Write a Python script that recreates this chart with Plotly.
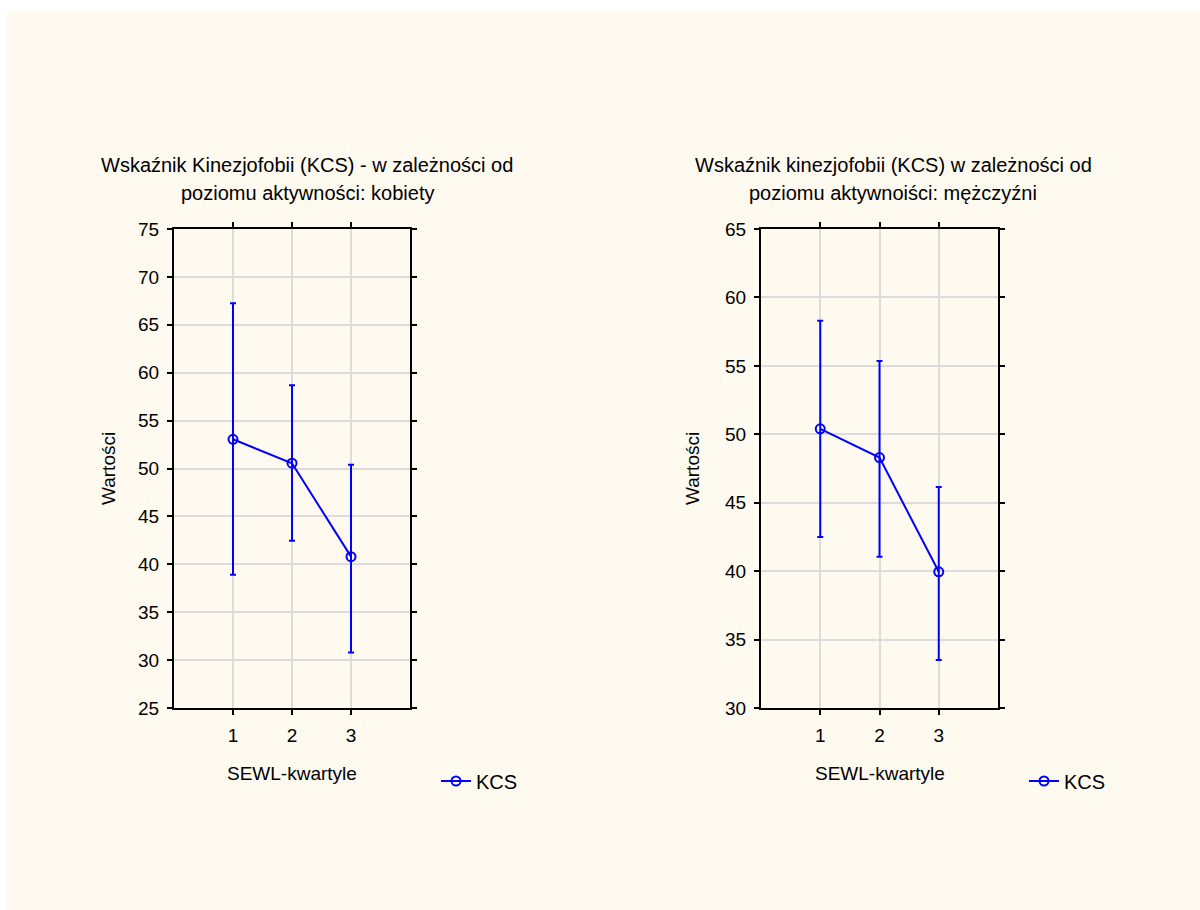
import plotly.graph_objects as go

# ---- data ----
quartiles = [1, 2, 3]
x_tick_labels = ["1", "2", "3"]

women_mean = [53.05, 50.55, 40.8]
women_upper = [67.25, 58.7, 50.4]
women_lower = [38.9, 42.45, 30.8]

men_mean = [50.4, 48.3, 39.95]
men_upper = [58.3, 55.35, 46.15]
men_lower = [42.5, 41.05, 33.5]

women_yticks = [25, 30, 35, 40, 45, 50, 55, 60, 65, 70, 75]
men_yticks = [30, 35, 40, 45, 50, 55, 60, 65]

series_name = "KCS"
title_women = ["Wskaźnik Kinezjofobii (KCS) - w zależności od", "poziomu aktywności: kobiety"]
title_men = ["Wskaźnik kinezjofobii (KCS) w zależności od", "poziomu aktywnoiści: mężczyźni"]
x_title = "SEWL-kwartyle"
y_title = "Wartości"

# ---- styling ----
W, H = 1200, 910
BLUE = "#0000FF"
FONT = "Liberation Sans, Arial, sans-serif"
CREAM = "#FFFAF0"


def px_x(p):
    return p / W


def px_y(p):
    return 1 - p / H


fig = go.Figure()


def add_series(means, up, lo, xa, ya, legend):
    plus = [u - m for u, m in zip(up, means)]
    minus = [m - l for m, l in zip(means, lo)]
    fig.add_trace(go.Scatter(
        x=quartiles, y=means, mode="lines+markers", name=series_name,
        xaxis=xa, yaxis=ya, legend=legend, showlegend=True,
        line=dict(color=BLUE, width=2),
        marker=dict(symbol="circle-open", size=9, color=BLUE, line=dict(width=2, color=BLUE)),
        error_y=dict(type="data", symmetric=False, array=plus, arrayminus=minus,
                     color=BLUE, thickness=2, width=3),
    ))


add_series(women_mean, women_upper, women_lower, "x", "y", "legend")
add_series(men_mean, men_upper, men_lower, "x2", "y2", "legend2")

axis_common = dict(
    showline=True, linecolor="black", linewidth=2, mirror="ticks",
    ticks="outside", ticklen=5, tickwidth=2, tickcolor="black",
    showgrid=True, gridcolor="#DCDCDC", gridwidth=2, zeroline=False,
    automargin=False, ticklabelstandoff=4,
    tickfont=dict(family=FONT, size=19, color="black"),
)

fig.update_layout(
    width=W, height=H,
    margin=dict(l=0, r=0, t=0, b=0, pad=0, autoexpand=False),
    paper_bgcolor="white",
    plot_bgcolor="white",
    showlegend=True,
    font=dict(family=FONT, size=18, color="black"),
    xaxis=dict(domain=[px_x(174), px_x(410)], range=[0, 4], tickvals=quartiles,
               ticktext=x_tick_labels, anchor="y", **axis_common),
    yaxis=dict(domain=[px_y(708), px_y(229)], range=[25, 75], tickvals=women_yticks,
               anchor="x", **axis_common),
    xaxis2=dict(domain=[px_x(761), px_x(998)], range=[0, 4], tickvals=quartiles,
                ticktext=x_tick_labels, anchor="y2", **axis_common),
    yaxis2=dict(domain=[px_y(708), px_y(229)], range=[30, 65], tickvals=men_yticks,
                anchor="x2", **axis_common),
    legend=dict(x=px_x(436), y=px_y(781), xanchor="left", yanchor="middle",
                bgcolor="rgba(0,0,0,0)", font=dict(family=FONT, size=20)),
    legend2=dict(x=px_x(1024), y=px_y(781), xanchor="left", yanchor="middle",
                 bgcolor="rgba(0,0,0,0)", font=dict(family=FONT, size=20)),
    shapes=[dict(type="rect", xref="paper", yref="paper", x0=px_x(7), x1=1,
                 y0=0, y1=px_y(11), fillcolor=CREAM, line=dict(width=0), layer="below")],
)

ann = []
for lines, cx in ((title_women, 307), (title_men, 893)):
    for i, t in enumerate(lines):
        ann.append(dict(text=t, x=px_x(cx), y=px_y(165 + 28 * i), xref="paper", yref="paper",
                        xanchor="center", yanchor="middle", showarrow=False,
                        font=dict(family=FONT, size=20, color="black")))
for cx in (292, 880):
    ann.append(dict(text=x_title, x=px_x(cx), y=px_y(773), xref="paper", yref="paper",
                    xanchor="center", yanchor="middle", showarrow=False,
                    font=dict(family=FONT, size=19, color="black")))
for cx in (109, 693):
    ann.append(dict(text=y_title, x=px_x(cx), y=px_y(469), xref="paper", yref="paper",
                    xanchor="center", yanchor="middle", showarrow=False, textangle=-90,
                    font=dict(family=FONT, size=19, color="black")))
fig.update_layout(annotations=ann)

post = (
    "document.documentElement.style.margin='0';"
    "document.documentElement.style.overflow='hidden';"
    "document.body.style.margin='0';"
    "document.body.style.overflow='hidden';"
    "var d=document.getElementById('{plot_id}');"
    "d.style.position='fixed';d.style.top='0px';d.style.left='0px';"
)

fig.write_html("out.html", config={"displayModeBar": False}, post_script=post)
